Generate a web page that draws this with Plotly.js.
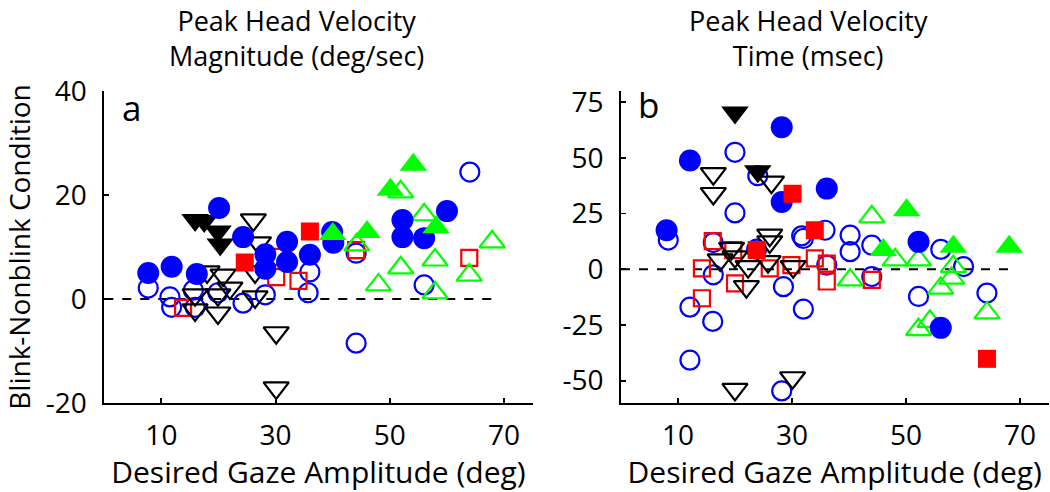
<!DOCTYPE html>
<html><head><meta charset="utf-8">
<script src="https://cdn.plot.ly/plotly-3.0.1.min.js"></script>
<style>html,body{margin:0;padding:0;background:#fff}#chart{width:1050px;height:492px}</style>
</head><body><div id="chart"></div>
<script>
// ---------- Panel a: Peak head velocity magnitude (deg/sec) ----------
const aBlueFilledX = [7.7, 11.8, 16.2, 20.1, 24.3, 28.2, 28.2, 32, 32, 36, 39.9, 40.1, 52.2, 52.2, 56, 60];
const aBlueFilledY = [5.0, 6.2, 4.8, 17.5, 11.9, 8.6, 5.8, 11, 7.1, 8.5, 12.9, 10.8, 15.2, 11.9, 11.7, 16.9];
const aBlueOpenX = [7.7, 11.5, 11.8, 15.9, 15.6, 19.9, 24.3, 28.2, 36, 35.7, 44.1, 44.1, 56, 64];
const aBlueOpenY = [2.1, 0.4, -1.6, -1.6, 1.7, 1.2, -0.8, 0.8, 5.2, 1.2, 8.8, -8.5, 2.7, 24.4];
const aBlackFilledX = [15.9, 17.5, 19.9, 20.3];
const aBlackFilledY = [15.2, 15.0, 13.0, 10.5];
const aBlackOpenX = [26.1, 27, 26.4, 26.4, 18, 20.8, 22, 19.9, 15.9, 15.9, 19.9, 30.1, 30.1];
const aBlackOpenY = [15.2, 10.8, 5.2, 0.4, 5.2, 4.6, 2.1, 0.8, 0.8, -2.1, -2.7, -6.5, -17.1];
const aRedFilledX = [36, 24.6];
const aRedFilledY = [13.0, 7.0];
const aRedOpenX = [13.8, 30.1, 30.1, 34, 44.1, 63.9];
const aRedOpenY = [-1.7, 8.1, 4.2, 3.5, 9.4, 7.9];
const aGreenFilledX = [40, 46, 50.1, 54.1, 58.1];
const aGreenFilledY = [12.5, 12.9, 21, 25.8, 13.8];
const aGreenOpenX = [44.2, 51.9, 56, 57.9, 51.9, 48, 57.9, 63.9, 67.9];
const aGreenOpenY = [10.4, 20.6, 16.2, 7.5, 6.0, 2.7, 1.2, 4.6, 11];

// ---------- Panel b: Peak head velocity time (msec) ----------
const bBlueFilledX = [12.1, 28.2, 28.2, 36.1, 8, 52.2, 56.1];
const bBlueFilledY = [48.8, 63.7, 30.2, 36.2, 17.5, 12.3, -26.3];
const bBlueOpenX = [20, 24, 20, 8.3, 16.2, 32, 31.7, 35.8, 23.8, 36.1, 16.2, 28.5, 12.1, 32, 16.1, 12.1, 28.2, 40.2, 40.2, 44, 44, 56.1, 60.1, 52.2, 64.2];
const bBlueOpenY = [52.5, 42, 25.3, 13.1, 12, 13.8, 15.0, 17.5, 9, 1.9, -2.5, -7.8, -17, -17.9, -23.4, -40.8, -54.6, 15.3, 7.9, 10.8, -3.3, 8.9, 1.2, -12.2, -10.7];
const bBlackFilledX = [20, 24];
const bBlackFilledY = [70.4, 44];
const bBlackOpenX = [16.2, 16.2, 26.4, 26.1, 26.1, 19.4, 20, 17.4, 22.3, 25.8, 30.2, 22, 20, 30.1];
const bBlackOpenY = [42.9, 34, 39.1, 15.3, 12.3, 9.4, 5.6, 4.2, 1.2, 3.4, 1.2, -7.8, -53.9, -48.7];
const bRedFilledX = [30.1, 34, 23.8, 64.2];
const bRedFilledY = [33.9, 17.5, 8.6, -40.2];
const bRedOpenX = [16.1, 19.7, 14.2, 26.1, 29.9, 34, 36.1, 36.1, 20, 14.2, 44];
const bRedOpenY = [12.6, 8.6, 0.4, 0.4, 1.9, 4.9, 2.5, -5.5, -6.3, -13, -4.8];
const bGreenFilledX = [50.1, 46, 58.3, 68.1];
const bGreenFilledY = [26.5, 8.6, 10.1, 10.1];
const bGreenOpenX = [44, 48.1, 52.2, 58.3, 58, 40.2, 56.1, 64.2, 54.2, 52.2];
const bGreenOpenY = [23.5, 4.2, 4.2, 1.2, -4, -4.8, -8.5, -19.6, -23.4, -27.1];

// zero reference line
const refLineX = [0, 69];
const refLineY = [0, 0];

const xTicks = [10, 30, 50, 70];
const aYTicks = [-20, 0, 20, 40];
const bYTicks = [-50, -25, 0, 25, 50, 75];

const FONT = 'Open Sans, Liberation Sans, sans-serif';
const BLUE = '#0000ff', RED = '#ff0000', GREEN = '#00ff00', BLACK = '#000000';

function pts(x, y, symbol, color, size, xa, ya) {
  const open = symbol.indexOf('-open') >= 0;
  return {
    type: 'scatter', mode: 'markers', x: x, y: y, xaxis: xa, yaxis: ya,
    hoverinfo: 'skip', showlegend: false,
    marker: open ? {symbol: symbol, size: size, color: color, line: {color: color, width: 2.2}}
                 : {symbol: symbol, size: size, color: color, line: {width: 0}}
  };
}
function ref(xa, ya) {
  return {type: 'scatter', mode: 'lines', x: refLineX, y: refLineY, xaxis: xa, yaxis: ya,
    hoverinfo: 'skip', showlegend: false, line: {color: BLACK, width: 2, dash: '9px,9px'}};
}

const traces = [
  ref('x', 'y'),
  pts(aBlueOpenX, aBlueOpenY, 'circle-open', BLUE, 19, 'x', 'y'),
  pts(aRedOpenX, aRedOpenY, 'square-open', RED, 16, 'x', 'y'),
  pts(aGreenOpenX, aGreenOpenY, 'triangle-up-open', GREEN, 22, 'x', 'y'),
  pts(aBlackOpenX, aBlackOpenY, 'triangle-down-open', BLACK, 22, 'x', 'y'),
  pts(aBlackFilledX, aBlackFilledY, 'triangle-down', BLACK, 24, 'x', 'y'),
  pts(aBlueFilledX, aBlueFilledY, 'circle', BLUE, 22, 'x', 'y'),
  pts(aRedFilledX, aRedFilledY, 'square', RED, 18, 'x', 'y'),
  pts(aGreenFilledX, aGreenFilledY, 'triangle-up', GREEN, 24, 'x', 'y'),

  ref('x2', 'y2'),
  pts(bBlueOpenX, bBlueOpenY, 'circle-open', BLUE, 19, 'x2', 'y2'),
  pts(bRedOpenX, bRedOpenY, 'square-open', RED, 16, 'x2', 'y2'),
  pts(bGreenOpenX, bGreenOpenY, 'triangle-up-open', GREEN, 22, 'x2', 'y2'),
  pts(bBlackOpenX, bBlackOpenY, 'triangle-down-open', BLACK, 22, 'x2', 'y2'),
  pts(bBlueFilledX, bBlueFilledY, 'circle', BLUE, 22, 'x2', 'y2'),
  pts(bRedFilledX, bRedFilledY, 'square', RED, 18, 'x2', 'y2'),
  pts(bGreenFilledX, bGreenFilledY, 'triangle-up', GREEN, 24, 'x2', 'y2'),
  pts(bBlackFilledX, bBlackFilledY, 'triangle-down', BLACK, 24, 'x2', 'y2')
];

function xAxis(domain, anchor) {
  return {
    domain: domain, anchor: anchor, range: [0, 75], tickvals: xTicks, ticktext: xTicks.map(String),
    ticks: 'inside', ticklen: 5, tickwidth: 1.8, tickcolor: BLACK,
    showline: true, linecolor: BLACK, linewidth: 1.8, showgrid: false, zeroline: false,
    tickfont: {family: FONT, size: 28, color: BLACK}, ticklabelstandoff: 7,
    title: {text: 'Desired Gaze Amplitude (deg)', font: {family: FONT, size: 30, color: BLACK}, standoff: 7},
    automargin: false, fixedrange: true
  };
}
function yAxis(domain, anchor, range, ticks, title) {
  const ax = {
    domain: domain, anchor: anchor, range: range, tickvals: ticks, ticktext: ticks.map(String),
    ticks: 'inside', ticklen: 5, tickwidth: 1.8, tickcolor: BLACK,
    showline: true, linecolor: BLACK, linewidth: 1.8, showgrid: false, zeroline: false,
    tickfont: {family: FONT, size: 28, color: BLACK}, ticklabelstandoff: 10,
    automargin: false, fixedrange: true
  };
  if (title) ax.title = {text: title, font: {family: FONT, size: 28, color: BLACK}, standoff: 14};
  return ax;
}

const yDom = [0.181, 0.815];
const layout = {
  width: 1050, height: 492,
  margin: {l: 0, r: 0, t: 0, b: 0},
  paper_bgcolor: '#ffffff', plot_bgcolor: '#ffffff',
  showlegend: false,
  xaxis: xAxis([0.0993, 0.5073], 'y'),
  yaxis: yAxis(yDom, 'x', [-20, 40], aYTicks, 'Blink-Nonblink Condition'),
  xaxis2: xAxis([0.5914, 0.9986], 'y2'),
  yaxis2: yAxis(yDom, 'x2', [-60, 80], bYTicks, null),
  annotations: [
    {text: 'Peak Head Velocity<br>Magnitude (deg/sec)', xref: 'paper', yref: 'paper',
     x: 296 / 1050, y: 1, xanchor: 'center', yanchor: 'top', showarrow: false,
     font: {family: FONT, size: 27, color: BLACK}},
    {text: 'Peak Head Velocity<br>Time (msec)', xref: 'paper', yref: 'paper',
     x: 808 / 1050, y: 1, xanchor: 'center', yanchor: 'top', showarrow: false,
     font: {family: FONT, size: 27, color: BLACK}},
    {text: 'a', xref: 'paper', yref: 'paper', x: 131 / 1050, y: 1 - 107 / 492,
     xanchor: 'center', yanchor: 'middle', showarrow: false, font: {family: FONT, size: 35, color: BLACK}},
    {text: 'b', xref: 'paper', yref: 'paper', x: 648 / 1050, y: 1 - 104 / 492,
     xanchor: 'center', yanchor: 'middle', showarrow: false, font: {family: FONT, size: 35, color: BLACK}}
  ]
};

Plotly.newPlot('chart', traces, layout, {staticPlot: true, displayModeBar: false});
</script></body></html>
